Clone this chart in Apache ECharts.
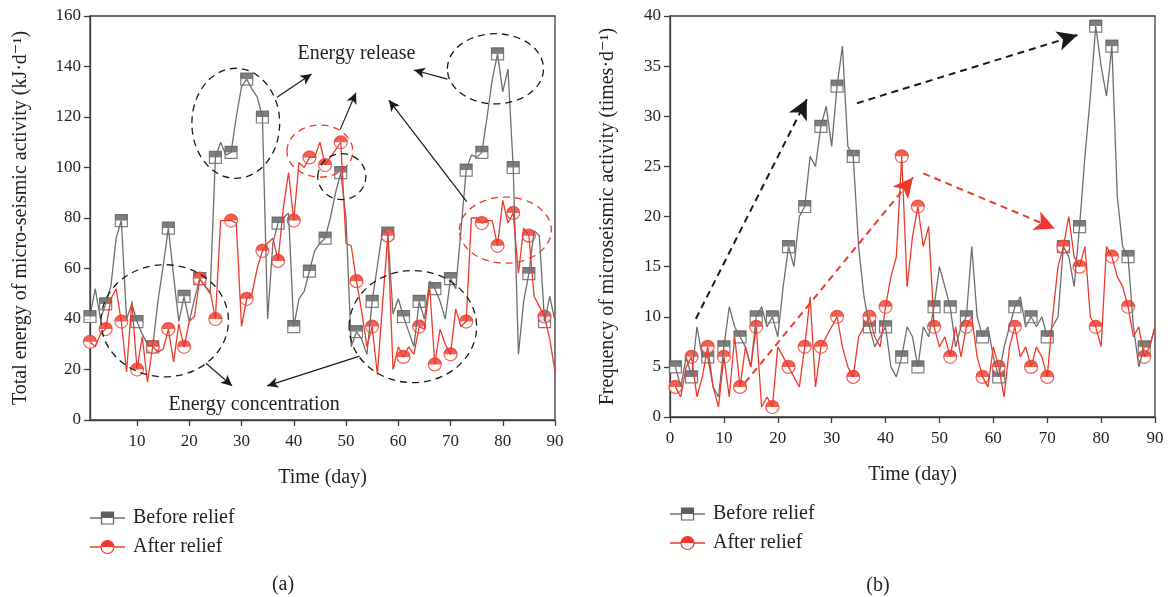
<!DOCTYPE html>
<html>
<head>
<meta charset="utf-8">
<script src="https://cdn.jsdelivr.net/npm/echarts@6/dist/echarts.min.js"></script>
<style>
  html, body { margin: 0; padding: 0; background: #fff; }
  #chart { width: 1171px; height: 597px; }
</style>
</head>
<body>
<div id="chart"></div>
<script>
// day index shared by both panels
const days = [
  1, 2, 3, 4, 5, 6, 7, 8, 9, 10, 11, 12, 13, 14, 15, 16, 17, 18, 19, 20,
  21, 22, 23, 24, 25, 26, 27, 28, 29, 30, 31, 32, 33, 34, 35, 36, 37, 38, 39, 40,
  41, 42, 43, 44, 45, 46, 47, 48, 49, 50, 51, 52, 53, 54, 55, 56, 57, 58, 59, 60,
  61, 62, 63, 64, 65, 66, 67, 68, 69, 70, 71, 72, 73, 74, 75, 76, 77, 78, 79, 80,
  81, 82, 83, 84, 85, 86, 87, 88, 89, 90
]

// (a) total energy, kJ/d
const energyBefore = [
  41, 52, 40, 46, 53, 72, 79, 40, 46, 39, 34, 30, 29, 47, 61, 76, 57, 39, 49, 39,
  48, 56, 53, 50, 104, 110, 105, 106, 120, 132, 135, 131, 128, 120, 40, 70, 78, 80, 82, 37,
  48, 51, 59, 67, 70, 72, 80, 90, 98, 80, 29, 35, 32, 26, 47, 61, 75, 74, 42, 48,
  41, 35, 29, 47, 40, 55, 52, 47, 40, 56, 52, 75, 99, 105, 104, 106, 120, 135, 145, 130,
  139, 100, 26, 47, 58, 75, 73, 39, 49, 39
]
const energyAfter = [
  31, 29, 34, 36, 48, 52, 39, 19, 47, 20, 33, 15, 29, 27, 28, 36, 23, 38, 29, 39,
  41, 56, 53, 51, 40, 79, 79, 79, 78, 37, 48, 50, 60, 67, 70, 72, 63, 84, 98, 79,
  102, 100, 104, 104, 110, 101, 104, 107, 110, 70, 69, 55, 43, 29, 37, 18, 46, 73, 20, 29,
  25, 29, 26, 37, 36, 53, 22, 36, 30, 26, 44, 37, 39, 80, 80, 78, 79, 79, 69, 87,
  78, 82, 58, 76, 73, 49, 45, 41, 32, 19
]

// (b) microseismic frequency, times/d
const freqBefore = [
  5, 3, 6, 4, 9, 6, 6, 3, 2, 7, 11, 9, 8, 7, 5, 10, 11, 9, 10, 8,
  13, 17, 15, 20, 21, 26, 25, 29, 31, 27, 33, 37, 27, 26, 17, 12, 9, 7, 8, 9,
  5, 4, 6, 9, 8, 5, 9, 8, 11, 15, 13, 11, 7, 9, 10, 17, 10, 8, 9, 6,
  4, 7, 9, 11, 12, 9, 10, 9, 10, 8, 9, 10, 17, 16, 13, 19, 26, 32, 39, 35,
  32, 37, 22, 17, 16, 9, 5, 7, 7, 9
]
const freqAfter = [
  3, 2, 5, 6, 2, 4, 7, 3, 1, 6, 2, 8, 3, 7, 5, 9, 1, 2, 1, 7,
  6, 5, 4, 3, 7, 12, 3, 7, 8, 9, 10, 7, 5, 4, 8, 9, 10, 8, 7, 11,
  14, 16, 26, 13, 18, 21, 17, 19, 9, 7, 8, 6, 9, 6, 9, 10, 6, 4, 3, 7,
  5, 2, 7, 9, 6, 7, 5, 7, 6, 4, 10, 15, 17, 20, 16, 15, 17, 10, 9, 7,
  17, 16, 14, 13, 11, 8, 9, 6, 7, 9
]

const energyDayTicks = [10, 20, 30, 40, 50, 60, 70, 80, 90]

const FONT = '"Liberation Serif", "DejaVu Serif", serif'
const INK = "#231f20"
const AXIS = "#3c3c3c"
const GREY = "#6e6e6e"
const GREY_MARK = "#5e5e5e"
const RED = "#ee3a2c"
const HALF_CIRCLE = "path://M0,10 A10,10 0 0 1 20,10 Z"

const chart = echarts.init(document.getElementById("chart"))

const toPairs = (vals) => days.map((d, i) => [d, vals[i]])
// markers every third day, starting on day 1
const toMarks = (vals) => toPairs(vals).filter((_, i) => i % 3 === 0)

function lineSeries(name, vals, color, idx) {
  return {
    type: "line",
    name,
    data: toPairs(vals),
    xAxisIndex: idx,
    yAxisIndex: idx,
    symbol: "none",
    silent: true,
    lineStyle: { color, width: 1.3 }
  }
}

function markSeries(vals, kind, idx) {
  const isSquare = kind === "square"
  const color = isSquare ? GREY_MARK : RED
  const size = isSquare ? 12 : 13
  return [
    {
      type: "scatter",
      data: toMarks(vals),
      xAxisIndex: idx,
      yAxisIndex: idx,
      symbol: isSquare ? "rect" : "circle",
      symbolSize: size,
      silent: true,
      itemStyle: { color: "#fff", borderColor: color, borderWidth: 1.2 }
    },
    {
      type: "scatter",
      data: toMarks(vals),
      xAxisIndex: idx,
      yAxisIndex: idx,
      symbol: isSquare ? "rect" : HALF_CIRCLE,
      symbolSize: [size, size / 2],
      symbolOffset: [0, -size / 4],
      silent: true,
      itemStyle: { color }
    }
  ]
}

const tickText = { color: INK, fontSize: 17, fontFamily: FONT }
const nameText = { color: INK, fontSize: 20, fontFamily: FONT }
const axisLine = { show: true, onZero: false, lineStyle: { color: AXIS, width: 1.3 } }
const axisTick = { show: true, length: 6, lineStyle: { color: AXIS, width: 1.3 } }

// arrows [x1, y1, x2, y2] in data units
const arrowsEnergy = [
  [36.8, 127.8, 43.4, 137.0],
  [48.9, 115.1, 51.9, 129.6],
  [69.4, 135.0, 63.0, 138.6],
  [73.1, 86.5, 58.2, 126.7],
  [23.2, 22.5, 28.2, 13.5],
  [52.6, 25.3, 34.9, 13.5]
]
const arrowsFreqBlack = [
  [4.8, 9.8, 25.4, 31.7],
  [34.7, 31.3, 75.6, 38.1]
]
const arrowsFreqRed = [
  [13.9, 3.4, 45.1, 23.9],
  [47.0, 24.3, 71.4, 18.8]
]

function markArrows(list, color, dashed, size) {
  return {
    silent: true,
    animation: false,
    symbol: ["none", "arrow"],
    symbolSize: size,
    label: { show: false },
    emphasis: { disabled: true },
    lineStyle: { color, width: dashed ? 2 : 1.2, type: dashed ? [7, 5] : "solid" },
    data: list.map((a) => [{ coord: [a[0], a[1]] }, { coord: [a[2], a[3]] }])
  }
}

const energyBeforeLine = lineSeries("Before relief", energyBefore, GREY, 0)
energyBeforeLine.markLine = markArrows(arrowsEnergy, "#1a1a1a", false, [8, 11])
const freqBeforeLine = lineSeries("Before relief", freqBefore, GREY, 1)
freqBeforeLine.markLine = markArrows(arrowsFreqBlack, "#1a1a1a", true, [15, 20])
const freqAfterLine = lineSeries("After relief", freqAfter, RED, 1)
freqAfterLine.markLine = markArrows(arrowsFreqRed, RED, true, [15, 20])

chart.setOption({
  animation: false,
  grid: [
    { left: 90, right: 616, top: 16, bottom: 177, show: true, borderColor: AXIS, borderWidth: 1.3 },
    { left: 670, right: 16, top: 16, bottom: 180, show: true, borderColor: AXIS, borderWidth: 1.3 }
  ],
  xAxis: [
    {
      gridIndex: 0, type: "value", min: 1, max: 90,
      axisLine, splitLine: { show: false },
      axisTick: { ...axisTick, customValues: energyDayTicks },
      axisLabel: { ...tickText, margin: 13, customValues: energyDayTicks },
      name: "Time (day)", nameLocation: "middle", nameGap: 48, nameTextStyle: nameText
    },
    {
      gridIndex: 1, type: "value", min: 0, max: 90, interval: 10,
      axisLine, axisTick, splitLine: { show: false },
      axisLabel: { ...tickText, margin: 13 },
      name: "Time (day)", nameLocation: "middle", nameGap: 48, nameTextStyle: nameText
    }
  ],
  yAxis: [
    {
      gridIndex: 0, type: "value", min: 0, max: 160, interval: 20,
      axisLine, axisTick, splitLine: { show: false },
      axisLabel: { ...tickText, margin: 9 },
      name: "Total energy of micro-seismic activity (kJ·d⁻¹)",
      nameLocation: "middle", nameGap: 59, nameTextStyle: nameText
    },
    {
      gridIndex: 1, type: "value", min: 0, max: 40, interval: 5,
      axisLine, axisTick, splitLine: { show: false },
      axisLabel: { ...tickText, margin: 9 },
      name: "Frequency of microseismic activity (times·d⁻¹)",
      nameLocation: "middle", nameGap: 52, nameTextStyle: nameText
    }
  ],
  series: [
    energyBeforeLine,
    lineSeries("After relief", energyAfter, RED, 0),
    ...markSeries(energyBefore, "square", 0),
    ...markSeries(energyAfter, "circle", 0),
    freqBeforeLine,
    freqAfterLine,
    ...markSeries(freqBefore, "square", 1),
    ...markSeries(freqAfter, "circle", 1)
  ]
})

// dashed ellipses on panel (a): centre and radii in data units
const ellipsesEnergy = [
  { x: 28.9, y: 117.5, rx: 8.4, ry: 21.8, color: "#1a1a1a" },
  { x: 15.3, y: 39.3, rx: 12.2, ry: 22.2, color: "#1a1a1a" },
  { x: 45.0, y: 106.5, rx: 6.3, ry: 10.3, color: RED },
  { x: 49.2, y: 96.4, rx: 4.6, ry: 9.1, color: "#1a1a1a" },
  { x: 78.6, y: 139.1, rx: 9.2, ry: 13.9, color: "#1a1a1a" },
  { x: 80.5, y: 75.2, rx: 8.8, ry: 13.1, color: RED },
  { x: 62.8, y: 37.0, rx: 12.2, ry: 22.2, color: "#1a1a1a" }
]
const notesEnergy = [
  { x: 52.0, y: 145.0, text: "Energy release" },
  { x: 32.4, y: 6.2, text: "Energy concentration" }
]

const px = (x, y) => chart.convertToPixel({ gridIndex: 0 }, [x, y])

const graphics = []
ellipsesEnergy.forEach((e) => {
  const c = px(e.x, e.y)
  const rx = Math.abs(px(e.x + e.rx, e.y)[0] - c[0])
  const ry = Math.abs(px(e.x, e.y + e.ry)[1] - c[1])
  graphics.push({
    type: "ellipse", silent: true, z: 50,
    shape: { cx: c[0], cy: c[1], rx, ry },
    style: { fill: "none", stroke: e.color, lineWidth: 1.3, lineDash: [7, 5] }
  })
})
notesEnergy.forEach((n) => {
  const c = px(n.x, n.y)
  graphics.push({
    type: "text", silent: true, z: 50, x: c[0], y: c[1],
    style: { text: n.text, fill: INK, font: `20px ${FONT}`, align: "center", verticalAlign: "middle" }
  })
})

// legends and panel captions
function legendRow(x0, y, kind, label) {
  const isSquare = kind === "square"
  const color = isSquare ? GREY_MARK : RED
  const line = isSquare ? GREY : RED
  const cx = x0 + 17.5
  const items = [
    { type: "line", shape: { x1: x0, y1: y, x2: x0 + 35, y2: y }, style: { stroke: line, lineWidth: 1.3 } }
  ]
  if (isSquare) {
    items.push({ type: "rect", shape: { x: cx - 6, y: y - 6, width: 12, height: 12 }, style: { fill: "#fff", stroke: color, lineWidth: 1.2 } })
    items.push({ type: "rect", shape: { x: cx - 6, y: y - 6, width: 12, height: 6 }, style: { fill: color } })
  } else {
    items.push({ type: "circle", shape: { cx, cy: y, r: 6.5 }, style: { fill: "#fff", stroke: color, lineWidth: 1.2 } })
    items.push({ type: "sector", shape: { cx, cy: y, r: 6.5, startAngle: Math.PI, endAngle: 2 * Math.PI }, style: { fill: color } })
  }
  items.push({
    type: "text", x: x0 + 43, y,
    style: { text: label, fill: INK, font: `20px ${FONT}`, verticalAlign: "middle" }
  })
  return { type: "group", silent: true, children: items }
}

graphics.push(legendRow(90, 518, "square", "Before relief"))
graphics.push(legendRow(90, 547, "circle", "After relief"))
graphics.push(legendRow(670, 514, "square", "Before relief"))
graphics.push(legendRow(670, 543, "circle", "After relief"))
graphics.push({ type: "text", silent: true, x: 283, y: 585, style: { text: "(a)", fill: INK, font: `20px ${FONT}`, align: "center", verticalAlign: "middle" } })
graphics.push({ type: "text", silent: true, x: 878, y: 586, style: { text: "(b)", fill: INK, font: `20px ${FONT}`, align: "center", verticalAlign: "middle" } })

chart.setOption({ graphic: graphics })
</script>
</body>
</html>
